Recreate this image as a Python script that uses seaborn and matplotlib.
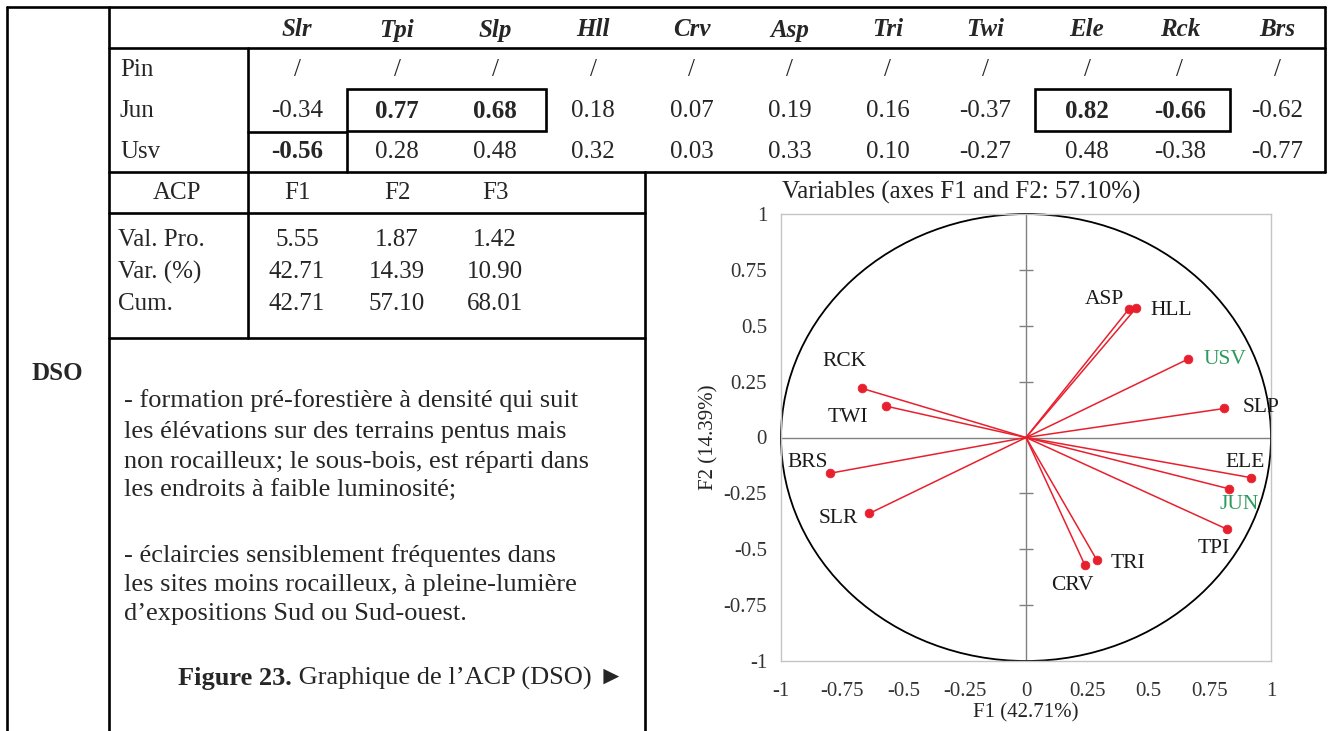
import numpy as np
import pandas as pd
import matplotlib
matplotlib.use('Agg')
import matplotlib.pyplot as plt
import seaborn as sns
from matplotlib.patches import Circle, Rectangle

sns.set_style('white')
plt.rcParams['font.family'] = ['Liberation Serif', 'DejaVu Sans']

# table values
variables = ['Slr', 'Tpi', 'Slp', 'Hll', 'Crv', 'Asp', 'Tri', 'Twi', 'Ele', 'Rck', 'Brs']
species = ['Pin', 'Jun', 'Usv']
pin_vals = ['/'] * 11
jun_vals = [-0.34, 0.77, 0.68, 0.18, 0.07, 0.19, 0.16, -0.37, 0.82, -0.66, -0.62]
usv_vals = [-0.56, 0.28, 0.48, 0.32, 0.03, 0.33, 0.10, -0.27, 0.48, -0.38, -0.77]
jun_bold = ['Tpi', 'Slp', 'Ele', 'Rck']
usv_bold = ['Slr']

acp_factors = ['F1', 'F2', 'F3']
acp_rows = ['Val. Pro.', 'Var. (%)', 'Cum.']
eigenvalues = [5.55, 1.87, 1.42]
variance_pct = [42.71, 14.39, 10.90]
cumulative_pct = [42.71, 57.10, 68.01]

# correlation circle (F1, F2)
pca_vars = ['SLR', 'TPI', 'SLP', 'HLL', 'CRV', 'ASP', 'TRI', 'TWI', 'ELE', 'RCK', 'BRS', 'JUN', 'USV']
f1 = [-0.64, 0.82, 0.81, 0.45, 0.24, 0.42, 0.29, -0.57, 0.92, -0.67, -0.80, 0.83, 0.66]
f2 = [-0.34, -0.41, 0.13, 0.58, -0.57, 0.575, -0.55, 0.14, -0.18, 0.22, -0.16, -0.23, 0.35]
green_vars = ['JUN', 'USV']

text_lines = [
    '- formation pré-forestière à densité qui suit',
    'les élévations sur des terrains pentus mais',
    'non rocailleux; le sous-bois, est réparti dans',
    'les endroits à faible luminosité;',
    '- éclaircies sensiblement fréquentes dans',
    'les sites moins rocailleux, à pleine-lumière',
    'd’expositions Sud ou Sud-ouest.',
]

# label offsets in pixels
label_off = {'ASP': (-24, 9), 'HLL': (35, -3), 'USV': (37, 0), 'SLP': (37, 1),
             'ELE': (-6, 15), 'JUN': (10, -16), 'TPI': (-13, -19), 'TRI': (31, -3),
             'CRV': (-12, -21), 'RCK': (-17, 27), 'TWI': (-38, -11), 'BRS': (-22, 11),
             'SLR': (-31, -5)}

fig = plt.figure(figsize=(13.3, 7.31), dpi=100)
ax = fig.add_axes([0, 0, 1, 1])
ax.set_xlim(0, 1330)
ax.set_ylim(731, 0)
ax.axis('off')

lw = 1.9
fs = 18
# grid lines
ax.plot([7, 1325], [7, 7], color='black', lw=lw)
ax.plot([7, 7], [7, 731], color='black', lw=lw)
ax.plot([109, 109], [7, 731], color='black', lw=lw)
ax.plot([1325, 1325], [7, 172], color='black', lw=lw)
ax.plot([109, 1325], [48, 48], color='black', lw=lw)
ax.plot([109, 1325], [172, 172], color='black', lw=lw)
ax.plot([248, 248], [48, 338], color='black', lw=lw)
ax.plot([109, 645], [213, 213], color='black', lw=lw)
ax.plot([109, 645], [338, 338], color='black', lw=lw)
ax.plot([645, 645], [172, 731], color='black', lw=lw)
ax.plot([248, 347, 347], [132, 132, 172], color='black', lw=lw)
ax.add_patch(Rectangle((347, 89), 199, 42, fill=False, ec='black', lw=lw))
ax.add_patch(Rectangle((1035, 89), 195, 42, fill=False, ec='black', lw=lw))

col_x = [297, 397, 495, 593, 692, 790, 888, 985, 1087, 1180, 1277]
for x, v in zip(col_x, variables):
    ax.text(x, 30, v, ha='center', va='center', fontsize=fs, fontweight='bold', fontstyle='italic')

row_y = [70, 111, 152]
for y, s in zip(row_y, species):
    ax.text(120, y, s, ha='left', va='center', fontsize=fs)
for x, v, a, b in zip(col_x, variables, jun_vals, usv_vals):
    ax.text(x, 70, '/', ha='center', va='center', fontsize=fs)
    ax.text(x, 111, f'{a:.2f}', ha='center', va='center', fontsize=fs,
            fontweight='bold' if v in jun_bold else 'normal')
    ax.text(x, 152, f'{b:.2f}', ha='center', va='center', fontsize=fs,
            fontweight='bold' if v in usv_bold else 'normal')

ax.text(177, 193, 'ACP', ha='center', va='center', fontsize=fs)
for x, f in zip(col_x[:3], acp_factors):
    ax.text(x, 193, f, ha='center', va='center', fontsize=fs)
for y, name, vals in zip([240, 272, 304], acp_rows, [eigenvalues, variance_pct, cumulative_pct]):
    ax.text(118, y, name, ha='left', va='center', fontsize=fs)
    for x, v in zip(col_x[:3], vals):
        ax.text(x, y, f'{v:.2f}', ha='center', va='center', fontsize=fs)

ax.text(57, 373, 'DSO', ha='center', va='center', fontsize=fs, fontweight='bold')
for y, line in zip([401, 432, 462, 491, 556, 585, 614], text_lines):
    ax.text(124, y, line, ha='left', va='center', fontsize=19)
cap = ax.text(178, 678, 'Figure 23.', ha='left', va='center', fontsize=19, fontweight='bold')
ax.annotate(' Graphique de l’ACP (DSO) ►', xy=(1, 0.5), xycoords=cap, ha='left', va='center',
            fontsize=19)

ax.text(782, 192, 'Variables (axes F1 and F2: 57.10%)', ha='left', va='center',
        fontsize=18, color='#222222')

# correlation circle
pc = fig.add_axes([781 / 1330, 1 - 661 / 731, 490 / 1330, 447 / 731])
pc.set_xlim(-1, 1)
pc.set_ylim(-1, 1)
pc.axhline(0, color='#808080', lw=1, zorder=1)
pc.axvline(0, color='#808080', lw=1, zorder=1)
ticks = [-1, -0.75, -0.5, -0.25, 0, 0.25, 0.5, 0.75, 1]
inner = [t for t in ticks if t not in (-1, 0, 1)]
pc.plot(np.zeros(len(inner)), inner, ls='none', marker='_', ms=10, mew=1, color='#808080')
pc.add_patch(Circle((0, 0), 1, fill=False, ec='black', lw=1.3, clip_on=False, zorder=2))

red = '#e8202e'
for x, y in zip(f1, f2):
    pc.plot([0, x], [0, y], color=red, lw=1.1, zorder=3)
df = pd.DataFrame({'f1': f1, 'f2': f2, 'var': pca_vars})
sns.scatterplot(data=df, x='f1', y='f2', color=red, edgecolor=red, s=40, ax=pc, zorder=4)
for x, y, name in zip(f1, f2, pca_vars):
    pc.annotate(name, (x, y), xytext=label_off[name], textcoords='offset pixels',
                ha='center', va='center', fontsize=15.5,
                color='#2e9a5e' if name in green_vars else '#1a1a1a', zorder=5)

tick_labels = ['-1', '-0.75', '-0.5', '-0.25', '0', '0.25', '0.5', '0.75', '1']
pc.set_xticks(ticks)
pc.set_xticklabels(tick_labels)
pc.set_yticks(ticks)
pc.set_yticklabels(tick_labels)
pc.tick_params(length=0, labelsize=15, colors='#333333')
pc.tick_params(axis='x', pad=15)
pc.tick_params(axis='y', pad=10)
pc.set_xlabel('F1 (42.71%)', fontsize=15, color='#222222', labelpad=2)
pc.set_ylabel('F2 (14.39%)', fontsize=15, color='#222222', labelpad=4)
for s in pc.spines.values():
    s.set_color('#c4c4c4')
    s.set_linewidth(1)

fig.savefig('out.png', dpi=100)
